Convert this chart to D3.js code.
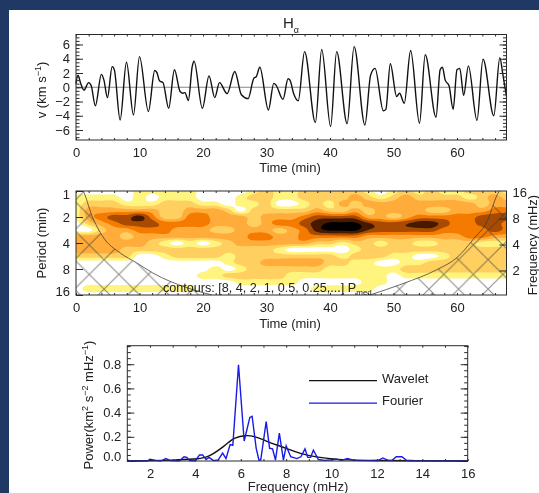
<!DOCTYPE html>
<html lang="en">
  <head>
    <meta charset="UTF-8">
    <title>H-alpha wavelet</title>
    <script src="https://d3js.org/d3.v7.min.js"></script>
    <style>
      html, body { margin: 0; padding: 0; background: #1f3864; overflow: hidden; }
      svg { display: block; filter: blur(0.45px); }
      text { font-family: "Liberation Sans", Arial, sans-serif; fill: #222; }
      .tick text { font-size: 13px; }
    </style>
  </head>
  <body>
    <script>
      // velocity curve, read at the turning points
      const velTime = [0, 0.3, 0.75, 1.25, 2, 2.4, 3.05, 4, 4.4, 4.95, 5.7, 6.05, 6.95, 7.95, 9.05, 10, 11.4, 12.4, 12.75, 13.15, 13.7, 14.6, 15.5, 16.4, 16.85, 17.15, 17.7, 18.3, 18.6, 19.9, 20.95, 21.85, 22.6, 23.8, 25, 26.05, 27.1, 28, 28.4, 28.95, 30.3, 31.15, 31.5, 32.6, 33.4, 33.7, 34.3, 35, 36, 37.7, 38.7, 40.1, 41.05, 42.7, 43.8, 45.5, 46.4, 47.1, 48.4, 48.8, 49.5, 50.5, 50.95, 51.7, 52.7, 54.1, 55, 56.7, 57.35, 57.7, 58.15, 58.75, 59.4, 60, 60.45, 61.05, 61.8, 63.15, 64.1, 65.8, 66.75, 67.2, 67.8];
      const velValue = [0.5, 1.7, 0.5, -0.4, 0.65, 0.2, -2.6, 1.8, 1, -1.45, 2.9, 2.4, -4.6, 3.5, -3.9, 4.3, -3.4, 2.35, 2.05, 0.9, 0.65, -2.95, 2.45, -0.6, -0.85, -0.75, -1.85, 2.9, 3.65, -2.95, 1.6, -1.45, 0.65, -0.9, 2.2, -1.05, -1.6, 1.25, 1.5, 2.8, -3.2, 0.55, 0.3, -1.7, 1.2, 1, -0.95, -1.9, 5, -4.95, 5.3, -5.5, 5, -5.1, 5.7, -5.3, 1.7, 2.65, -3.3, -3.1, 3.3, -1.3, -0.85, -2.25, 5.15, -5.05, 4.55, -4.2, 2.45, 2.8, 1, 0.2, -3.1, 2.45, 2.65, -1.15, 3, -4.65, 3.95, -4, 4.15, 1.95, -1.3];

      // wavelet power class per period row (1/4 octave steps) and time column (every 2 min)
      const powerLevels = [
        [0,0,0,0,0,1,1,1,1,1,0,0, 0,0,1,2,1,1,2,2,2, 2,2,1,0,1,2,1,2,1,1,2,2,2,1],
        [1,1,1,1,0,1,0,1,1,1,0,0, 0,1,2,2,1,1,2,2,2, 2,3,2,1,2,3,2,2,2,2,1,2,3,2],
        [1,2,2,2,1,1,1,2,2,2,1,1, 0,1,1,2,0,0,1,2,1, 3,2,3,3,3,3,3,3,3,3,3,2,3,3],
        [1,3,3,3,3,3,3,2,2,3,3,3, 2,0,2,2,2,2,2,3,2, 2,3,2,3,3,3,3,2,2,3,3,3,4,4],
        [1,3,4,5,5,6,4,2,2,4,4,3, 3,3,2,3,3,3,4,5,5, 5,5,3,3,2,3,4,4,4,4,4,5,5,5],
        [0,2,3,4,5,5,5,4,4,4,4,3, 3,3,2,3,4,4,5,6,6.7, 6.7,6.7,5.7,5,5,5.4,6,6,5,4,4,5,5,4],
        [0,0,2,3,3,4,4,4,3,3,3,2, 2,3,3,3,2,3,4,6,6.7, 6.7,6.7,5.5,5,5,5,5,5,4,4,4,4,5,4],
        [3,3,3,3,2,3,3,3,3,3,3,3, 3,3,4,4,3,3,4,4,4, 4,4,3,3,3,3,3,3,3,3,4,4,3,3],
        [3,3,3,3,3,3,2,1,0,1,0,1, 2,3,3,3,3,3,3,2,2, 1,2,2,1,2,2,1,1,2,2,2,1,1,1],
        [3,3,3,3,2,2,2,2,2,2,2,2, 2,2,2,2,1,0,0,0,0, 0,1,2,2,2,2,2,2,2,2,2,2,2,2],
        [2,2,2,2,2,0,0,1,2,2,2,2, 1,2,2,2,2,2,2,2,2, 1,2,2,2,1,1,0,0,1,2,2,2,2,2],
        [0,0,0,0,0,0,0,0,0,0,0,0, 1,2,2,3,3,3,3,3,2, 2,1,1,0,0,1,1,2,2,2,2,2,2,2],
        [0,0,0,0,0,0,0,0,0,0,0,1, 0,1,2,2,2,2,2,2,1, 1,1,1,1,1,2,2,2,2,2,2,2,2,2],
        [0,0,0,0,0,0,0,0,0,0,1,1, 2,2,2,2,2,1,1,1,1, 1,1,1,1,0,1,1,1,1,1,1,1,1,1],
        [0,0,0,0,0,0,0,0,0,0,0,0, 0,1,1,1,1,1,0,0,0, 0,0,1,1,0,0,0,0,0,0,0,0,0,0],
        [0,1,1,1,1,1,1,1,1,1,0,0, 0,0,0,0,0,0,0,1,1, 1,1,1,0,0,0,0,0,0,0,0,0,0,0],
        [0,0,0,0,0,0,0,0,0,0,0,0, 0,0,0,0,0,0,0,0,0, 0,0,0,0,0,0,0,0,0,0,0,0,0,0]
      ];
      const powerColors = ["#fff47e", "#ffd060", "#ffac3a", "#f47a00", "#a84a00", "#471a00", "#000000"];

      // cone of influence, period against time, left and right branch
      const coiLeftTime = [0, 1.15, 2.47, 4.25, 6.93, 9.57, 12.1, 17.5, 21.4];
      const coiLeftPeriod = [0.8, 1, 1.9, 3.4, 5.2, 6.8, 8.9, 13.2, 16];
      const coiRightTime = [46.3, 51.5, 56.9, 60, 62.6, 64.8, 66.35, 67.8];
      const coiRightPeriod = [16, 11.8, 8.1, 5.9, 3.6, 2.2, 1.1, 0.8];

      const freqFourier = [1, 1.9, 2, 2.3, 2.5, 2.7, 2.9, 3.3, 3.5, 3.62, 3.75, 4, 4.18, 4.32, 4.47, 4.6, 4.8, 5, 5.2, 5.35, 5.53, 5.65, 5.9, 6.15, 6.4, 6.5, 6.68, 6.8, 6.88, 7.12, 7.27, 7.4, 7.53, 7.7, 7.88, 8, 8.2, 8.47, 8.65, 8.83, 8.95, 9.08, 9.2, 9.42, 9.7, 10, 10.2, 10.45, 10.7, 11, 11.7, 12.05, 12.26, 12.5, 12.67, 12.85, 13.1, 13.3, 13.7, 14.6, 16];
      const powerFourier = [0, 0.002, 0.015, 0.003, 0.002, 0.02, 0.003, 0.002, 0.035, 0.03, 0.003, 0.002, 0.05, 0.05, 0.012, 0.03, 0.003, 0.008, 0.065, 0.02, 0.135, 0.13, 0.795, 0.165, 0.36, 0.37, 0.105, 0.008, 0.008, 0.325, 0.105, 0.1, 0.008, 0.23, 0.008, 0.125, 0.035, 0.02, 0.035, 0.1, 0.03, 0.03, 0.09, 0.012, 0.005, 0.01, 0.015, 0.005, 0.02, 0.005, 0.003, 0.004, 0.025, 0.005, 0.005, 0.035, 0.035, 0.006, 0.003, 0.001, 0];
      const freqWavelet = [1, 2, 3, 4, 4.5, 4.8, 5.25, 5.5, 5.7, 6.2, 6.6, 7, 7.3, 7.7, 8, 8.6, 9.4, 10.2, 11.7, 16];
      const powerWavelet = [0, 0.003, 0.006, 0.015, 0.03, 0.06, 0.12, 0.16, 0.19, 0.215, 0.205, 0.175, 0.15, 0.125, 0.105, 0.06, 0.03, 0.012, 0.004, 0];

      const w = 539;
      const h = 493;

      const svg = d3.select("body").append("svg")
                    .attr("width", w)
                    .attr("height", h);

      svg.append("rect")
         .attr("x", 9).attr("y", 10)
         .attr("width", w - 9).attr("height", h - 10)
         .attr("fill", "white");

      const defs = svg.append("defs");
      const ink = "#2a2a2a";

      const xTime = d3.scaleLinear().domain([0, 67.8]).range([76, 506.5]);
      const xFreq = d3.scaleLinear().domain([1, 16]).range([127.3, 467.7]);
      const yVel = d3.scaleLinear().domain([-7.4, 7.4]).range([140, 34.5]);
      const yPeriod = d3.scaleLog().base(2).domain([1, 16]).range([191, 295]);
      const yFreqRight = d3.scaleLog().base(2).domain([16.67, 1.04]).range([191, 295]);
      const yPower = d3.scaleLinear().domain([0, 0.953]).range([461, 345.7]);

      function ticks(axis, offsetX, offsetY) {
        const g = svg.append("g")
                     .attr("transform", `translate(${offsetX},${offsetY})`)
                     .call(axis);
        g.select(".domain").remove();
        g.selectAll(".tick line").attr("stroke", ink);
        g.selectAll(".tick text").attr("fill", ink);
        return g;
      }

      // ticks on all four sides, drawn inward like the original plot
      function frame(xs, ys, xMajor, xMinor, yMajor, yMinor, yFmt) {
        const left = xs.range()[0], right = xs.range()[1];
        const top = d3.min(ys.range()), bottom = d3.max(ys.range());
        svg.append("rect")
           .attr("x", left).attr("y", top)
           .attr("width", right - left).attr("height", bottom - top)
           .attr("fill", "none")
           .attr("stroke", ink);
        ticks(d3.axisBottom(xs).tickValues(xMajor).tickSize(0).tickPadding(8).tickFormat(d3.format("d")), 0, bottom);
        ticks(d3.axisTop(xs).tickValues(xMinor).tickSize(2).tickFormat(""), 0, bottom);
        ticks(d3.axisBottom(xs).tickValues(xMinor).tickSize(2).tickFormat(""), 0, top);
        const labels = ticks(d3.axisLeft(ys).tickValues(yMajor).tickSize(0).tickPadding(6).tickFormat(yFmt), left, 0);
        ticks(d3.axisRight(ys).tickValues(yMajor).tickSize(7).tickFormat(""), left, 0);
        if (yMinor.length) {
          ticks(d3.axisLeft(ys).tickValues(yMajor).tickSize(7).tickFormat(""), right, 0);
          ticks(d3.axisRight(ys).tickValues(yMinor).tickSize(3.5).tickFormat(""), left, 0);
          ticks(d3.axisLeft(ys).tickValues(yMinor).tickSize(3.5).tickFormat(""), right, 0);
        }
        return labels;
      }

      function label(x, y, txt, rotate) {
        const t = svg.append("text")
                     .attr("text-anchor", "middle")
                     .attr("font-size", 13)
                     .attr("transform", `translate(${x},${y})` + (rotate ? " rotate(-90)" : ""));
        (Array.isArray(txt) ? txt : [[txt, 0]]).forEach(([s, up]) => {
          const span = t.append("tspan").text(s);
          if (up) span.attr("baseline-shift", up > 0 ? "super" : "sub").attr("font-size", 9);
        });
        return t;
      }

      // top panel: velocity
      svg.append("line")
         .attr("x1", xTime(0)).attr("x2", xTime(67.8))
         .attr("y1", yVel(0)).attr("y2", yVel(0))
         .attr("stroke", "#666")
         .attr("stroke-width", 0.8);

      const velLine = d3.line()
                        .x((d, i) => xTime(velTime[i]))
                        .y((d) => yVel(d))
                        .curve(d3.curveMonotoneX);

      svg.append("path")
         .attr("d", velLine(velValue))
         .attr("fill", "none")
         .attr("stroke", "#111")
         .attr("stroke-width", 1.4);

      frame(xTime, yVel, d3.range(0, 61, 10), d3.range(0, 68, 2),
            d3.range(-6, 7, 2), d3.range(-7, 7.1, 0.5), d3.format("d"));

      label(291, 28, [["H", 0], ["\u03b1", -1]]).attr("font-size", 15);
      label(290, 172, "Time (min)");
      label(46, 90, [["v (km s", 0], ["\u22121", 1], [")", 0]], true);

      // middle panel: wavelet power contours
      defs.append("clipPath").attr("id", "plotClip")
          .append("rect")
          .attr("x", 76).attr("y", 191)
          .attr("width", 430.5).attr("height", 104);

      // refine the read grid so the contour edges come out round
      const fine = 4;
      function catmull(a, b, c, d, u) {
        return 0.5 * (2 * b + (c - a) * u + (2 * a - 5 * b + 4 * c - d) * u * u + (3 * b - a - 3 * c + d) * u * u * u);
      }
      function refine(line) {
        const out = [];
        for (let i = 0; i < line.length - 1; i++) {
          for (let k = 0; k < fine; k++) {
            out.push(catmull(line[Math.max(i - 1, 0)], line[i], line[i + 1], line[Math.min(i + 2, line.length - 1)], k / fine));
          }
        }
        out.push(line[line.length - 1]);
        return out;
      }
      const wideRows = powerLevels.map(refine);
      const wideCols = d3.transpose(wideRows).map(refine);
      const fineRows = d3.transpose(wideCols);

      const nRows = fineRows.length;
      const nCols = fineRows[0].length;
      const levels = d3.range(powerColors.length).map((i) => i + 0.5);
      const contours = d3.contours()
                         .size([nCols, nRows])
                         .thresholds(levels)(fineRows.flat());

      const toPlot = d3.geoTransform({
        point(px, py) {
          const t = (px - 0.5) / fine * 2;
          const period = Math.pow(2, (py - 0.5) / fine / 4);
          this.stream.point(xTime(t), yPeriod(period));
        }
      });

      const power = svg.append("g").attr("clip-path", "url(#plotClip)");

      power.selectAll("path")
           .data(contours)
           .enter()
           .append("path")
           .attr("d", d3.geoPath(toPlot))
           .attr("fill", (d, i) => powerColors[i]);

      // hatch over the cone of influence
      const hatch = defs.append("pattern")
                        .attr("id", "coiHatch")
                        .attr("patternUnits", "userSpaceOnUse")
                        .attr("width", 29.54)
                        .attr("height", 29.4)
                        .attr("patternTransform", "translate(89.3,245)");
      hatch.append("path")
           .attr("d", "M0,0L29.54,29.4M0,29.4L29.54,0")
           .attr("stroke", "#3a3a3a")
           .attr("stroke-opacity", 0.6)
           .attr("stroke-width", 1);

      const coiLeft = coiLeftTime.map((t, i) => [t, coiLeftPeriod[i]]);
      const coiRight = coiRightTime.map((t, i) => [t, coiRightPeriod[i]]);

      const coiFill = d3.area()
                        .x((d) => xTime(d[0]))
                        .y0(295)
                        .y1((d) => yPeriod(d[1]))
                        .curve(d3.curveMonotoneX);
      const coiEdge = d3.line()
                        .x((d) => xTime(d[0]))
                        .y((d) => yPeriod(d[1]))
                        .curve(d3.curveMonotoneX);

      [coiLeft, coiRight].forEach((branch) => {
        power.append("path")
             .attr("d", coiFill(branch))
             .attr("fill", "url(#coiHatch)");
        power.append("path")
             .attr("d", coiEdge(branch))
             .attr("fill", "none")
             .attr("stroke", "#3a3a3a")
             .attr("stroke-opacity", 0.75)
             .attr("stroke-width", 1);
      });

      const note = svg.append("text")
                      .attr("x", 163).attr("y", 291.5)
                      .attr("font-size", 12.6);
      note.append("tspan").text("contours: [8, 4, 2, 1, 0.5, 0.25,...] P");
      note.append("tspan").text("med").attr("font-size", 8).attr("dy", 3);

      const periodLabels = frame(xTime, yPeriod, d3.range(0, 61, 10), d3.range(0, 68, 2), [1, 2, 4, 8, 16], [], d3.format("d"));
      // end labels are pulled inside the frame height
      periodLabels.selectAll(".tick text")
                  .attr("dy", (d) => d === 1 ? "0.55em" : d === 16 ? "0.02em" : "0.32em");

      ticks(d3.axisRight(yFreqRight).tickValues([16, 8, 4, 2]).tickSize(0).tickPadding(6).tickFormat(d3.format("d")), 506.5, 0);
      ticks(d3.axisLeft(yFreqRight).tickValues([8, 4, 2]).tickSize(7).tickFormat(""), 506.5, 0);

      label(290, 328, "Time (min)");
      label(46, 243, "Period (min)", true);
      label(537, 245, "Frequency (mHz)", true);

      // bottom panel: spectra
      const specLine = (xs) => d3.line()
                                 .x((d, i) => xFreq(xs[i]))
                                 .y((d) => yPower(d));

      svg.append("path")
         .attr("d", specLine(freqWavelet).curve(d3.curveBasis)(powerWavelet))
         .attr("fill", "none")
         .attr("stroke", "#111")
         .attr("stroke-width", 1.4);

      svg.append("path")
         .attr("d", specLine(freqFourier)(powerFourier))
         .attr("fill", "none")
         .attr("stroke", "#1a1ae6")
         .attr("stroke-width", 1.4);

      const powerLabels = frame(xFreq, yPower, d3.range(2, 17, 2), d3.range(1, 16.5, 1),
            [0, 0.2, 0.4, 0.6, 0.8], d3.range(0, 0.951, 0.05), d3.format(".1f"));
      powerLabels.selectAll(".tick text")
                 .attr("dy", (d) => d === 0 ? "-0.02em" : "0.32em");

      const legendX = [309, 377];
      [["Wavelet", "#111", 380.7], ["Fourier", "#1a1ae6", 403]].forEach(([name, color, y]) => {
        svg.append("line")
           .attr("x1", legendX[0]).attr("x2", legendX[1])
           .attr("y1", y).attr("y2", y)
           .attr("stroke", color)
           .attr("stroke-width", 1.25);
        svg.append("text")
           .attr("x", 382).attr("y", y + 2)
           .attr("font-size", 13)
           .text(name);
      });

      label(298, 490.5, "Frequency (mHz)");
      label(93, 405, [["Power(km", 0], ["2", 1], [" s", 0], ["\u22122", 1], [" mHz", 0], ["\u22121", 1], [")", 0]], true);
    </script>
  </body>
</html>
